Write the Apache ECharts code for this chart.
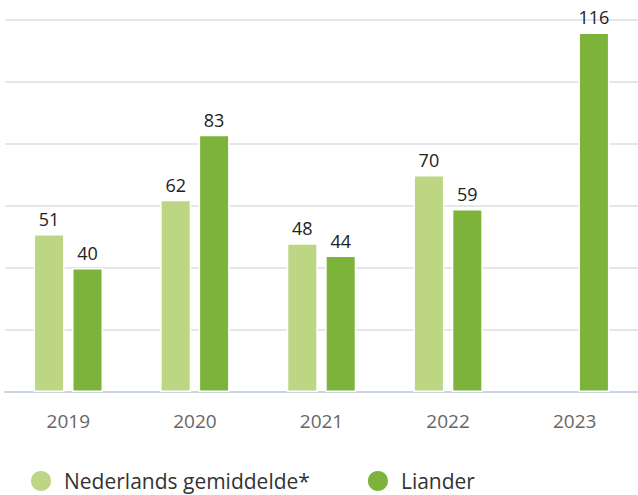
<!DOCTYPE html>
<html>
<head>
<meta charset="utf-8">
<script src="https://cdn.jsdelivr.net/npm/echarts@6/dist/echarts.min.js"></script>
<style>
  html, body { margin: 0; padding: 0; background: #fff; }
  #chart { width: 638px; height: 495px; }
</style>
</head>
<body>
<div id="chart"></div>
<script>
// jaren en waarden
const years = ['2019', '2020', '2021', '2022', '2023']
const nlAverage = [51, 62, 48, 70, null]
const liander = [40, 83, 44, 59, 116]
const seriesNames = ['Nederlands gemiddelde*', 'Liander']

const font = '"Open Sans", Lato, sans-serif'
const chart = echarts.init(document.getElementById('chart'), null, {renderer: 'svg'})

const barStyle = (color) => ({
  color: color,
  borderColor: '#fff',
  borderWidth: 1.5
})

const valueLabel = {
  show: true,
  position: 'top',
  distance: 6,
  fontFamily: font,
  fontSize: 18,
  color: '#222'
}

const option = {
  animation: false,
  grid: {
    left: 5,
    right: 0,
    top: 20,
    bottom: 103
  },
  legend: {
    data: seriesNames,
    left: 24,
    top: 464,
    icon: 'circle',
    itemWidth: 22,
    itemHeight: 22,
    itemGap: 56,
    textStyle: {
      fontFamily: font,
      fontSize: 21,
      color: '#333',
      padding: [0, 0, 0, 7]
    }
  },
  xAxis: {
    type: 'category',
    data: years,
    axisTick: { show: false },
    axisLine: { lineStyle: { color: '#c9d4e2', width: 2 } },
    axisLabel: {
      margin: 19,
      fontFamily: font,
      fontSize: 19,
      color: '#666'
    }
  },
  yAxis: {
    type: 'value',
    min: 0,
    max: 120,
    interval: 20,
    axisLabel: { show: false },
    axisLine: { show: false },
    axisTick: { show: false },
    splitLine: { lineStyle: { color: '#e6e6e6', width: 2 } }
  },
  series: [
    {
      name: seriesNames[0],
      type: 'bar',
      data: nlAverage,
      barWidth: 31,
      barGap: '24%',
      itemStyle: barStyle('#bcd684'),
      label: valueLabel
    },
    {
      name: seriesNames[1],
      type: 'bar',
      data: liander,
      barWidth: 31,
      barGap: '24%',
      itemStyle: barStyle('#7db33b'),
      label: valueLabel
    }
  ]
}
chart.setOption(option)
</script>
</body>
</html>
